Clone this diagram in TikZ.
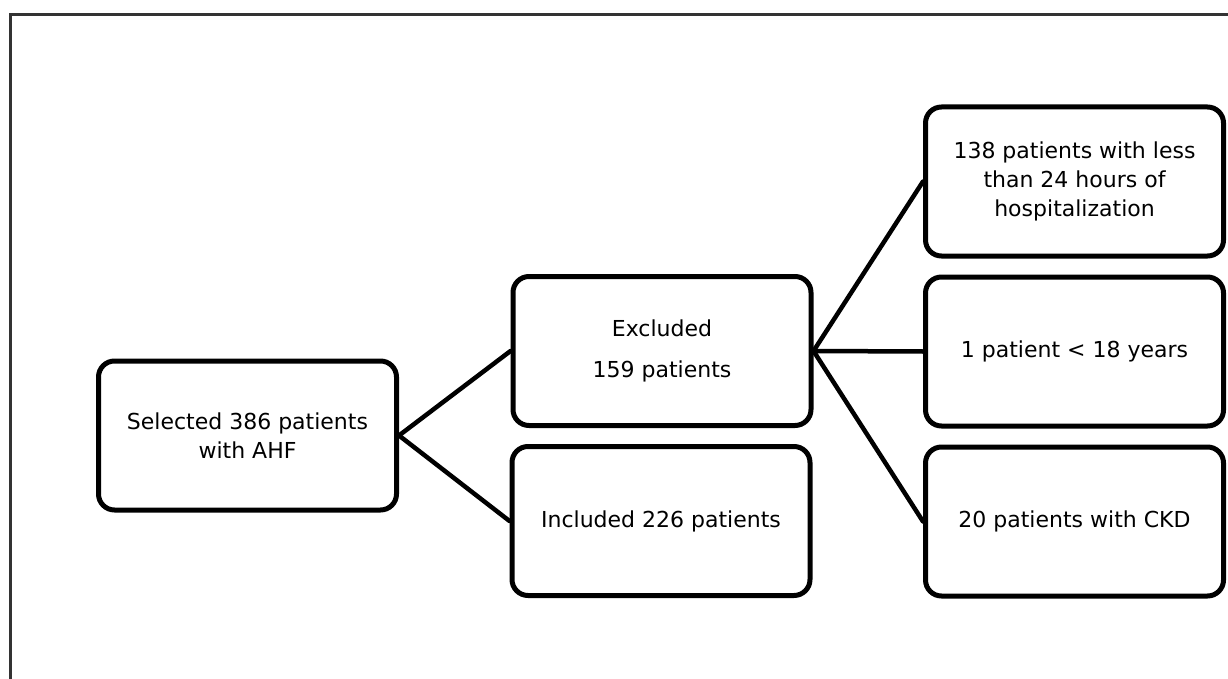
\documentclass[tikz,border=0pt]{standalone}
\usepackage{fontspec}
\setmainfont{DejaVu Sans}
\usetikzlibrary{positioning}
\tikzset{box/.style={draw,line width=5pt,rounded corners=16pt,fill=white,align=center,minimum width=298pt,minimum height=149pt,inner sep=0pt}, link/.style={line width=4.5pt,line cap=round}, frame/.style={line width=3pt,draw=black!80}}

\begin{document}
\begin{tikzpicture}[x=1pt,y=-1pt,font=\fontsize{22}{29}\selectfont]
\useasboundingbox(0,0)rectangle(1228,679);
\draw[frame](10,679)--(10,14.5)--(1228,14.5);
\node[box](sel)at(247.5,435.5){Selected 386 patients\\with AHF};\node[box](exc)at(662,351){Excluded\\[12pt]159 patients};\node[box](inc)at(661,521){Included 226 patients};
\node[box](hosp)at(1074.5,181.5){138 patients with less\\than 24 hours of\\hospitalization};\node[box](age)at(1074.5,351.5){1 patient < 18 years};\node[box](ckd)at(1074.5,521.5){20 patients with CKD};
\draw[link](sel.east)--(exc.west);\draw[link](sel.east)--(inc.west);
\draw[link](exc.east)--(hosp.west);\draw[link](exc.east)--(age.west);\draw[link](exc.east)--(ckd.west);
\end{tikzpicture}
\end{document}
